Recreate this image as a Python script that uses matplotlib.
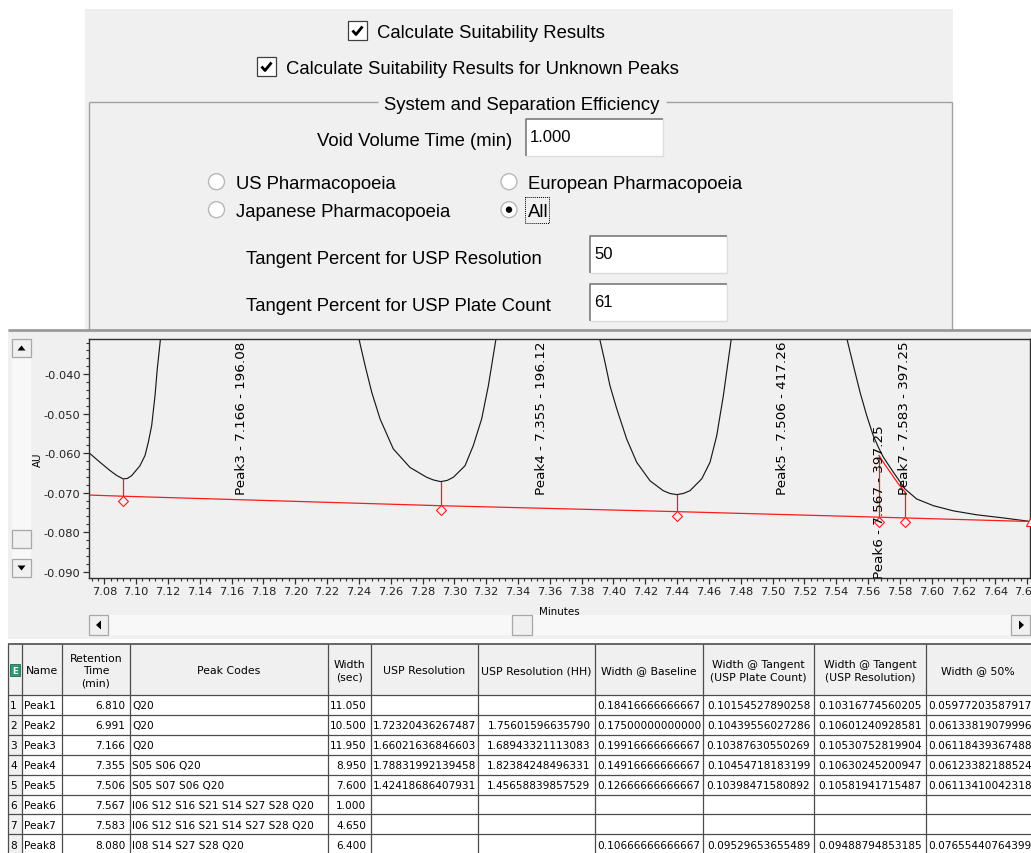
"""Suitability settings dialog with chromatogram zoom and peak table."""

import matplotlib

matplotlib.use("Agg")
import matplotlib.pyplot as plt
import matplotlib.transforms as mtransforms
from matplotlib.patches import Rectangle, Circle, Polygon
from matplotlib.ticker import MultipleLocator, FormatStrFormatter

W, H = 1031, 854
GRAY = "#f0f0f0"
UI_FONT = "Liberation Sans"
GRID_FONT = "DejaVu Sans"

# chromatogram trace, visible pieces (minutes, AU)
seg1_x = [7.0704, 7.0773, 7.0836, 7.0880, 7.0918, 7.0945, 7.0972, 7.1024, 7.1056, 7.1077, 7.1098, 7.1119, 7.1133, 7.1152, 7.1156]
seg1_y = [-0.0599, -0.0623, -0.0644, -0.0657, -0.0665, -0.0664, -0.0657, -0.0632, -0.0606, -0.0572, -0.0530, -0.0454, -0.0387, -0.0315, -0.0300]
seg2_x = [7.2396, 7.2403, 7.2439, 7.2481, 7.2533, 7.2616, 7.2721, 7.2826, 7.2870, 7.2914, 7.2955, 7.2994, 7.3067, 7.3119, 7.3172, 7.3214, 7.3260, 7.3266]
seg2_y = [-0.0300, -0.0315, -0.0378, -0.0446, -0.0513, -0.0589, -0.0636, -0.0661, -0.0668, -0.0672, -0.0669, -0.0661, -0.0632, -0.0581, -0.0513, -0.0429, -0.0315, -0.0300]
seg3_x = [7.3909, 7.3916, 7.3947, 7.3978, 7.4021, 7.4083, 7.4146, 7.4230, 7.4313, 7.4355, 7.4398, 7.4440, 7.4481, 7.4555, 7.4607, 7.4649, 7.4691, 7.4739, 7.4744]
seg3_y = [-0.0300, -0.0315, -0.0370, -0.0429, -0.0488, -0.0564, -0.0623, -0.0670, -0.0695, -0.0702, -0.0705, -0.0702, -0.0695, -0.0665, -0.0623, -0.0556, -0.0454, -0.0315, -0.0300]
seg4_x = [7.5461, 7.5470, 7.5508, 7.5550, 7.5592, 7.5633, 7.5665, 7.5696, 7.5759, 7.5833, 7.5906, 7.6011, 7.6136, 7.6283, 7.6451, 7.6604, 7.6620]
seg4_y = [-0.0300, -0.0315, -0.0378, -0.0446, -0.0505, -0.0556, -0.0585, -0.0610, -0.0648, -0.0691, -0.0716, -0.0733, -0.0746, -0.0756, -0.0764, -0.0772, -0.0774]

# integration baseline and peak boundaries
base_x = [7.0704, 7.0918, 7.2914, 7.4398, 7.5669, 7.5833, 7.6620]
base_y = [-0.0706, -0.0709, -0.0733, -0.0748, -0.0762, -0.0764, -0.0773]
bound_x = [7.0918, 7.2914, 7.4398, 7.5669, 7.5833]
bound_top = [-0.0665, -0.0672, -0.0705, -0.0606, -0.0699]
bound_base = [-0.0709, -0.0733, -0.0748, -0.0762, -0.0764]
skim_x = [7.5669, 7.5696, 7.5739, 7.5791, 7.5833]
skim_y = [-0.0606, -0.0623, -0.0648, -0.0678, -0.0699]
end_x, end_y = 7.6616, -0.0775

# peak labels drawn on the trace
label_names = ["Peak3", "Peak4", "Peak5", "Peak6", "Peak7"]
label_rt = [7.166, 7.355, 7.506, 7.567, 7.583]
label_val = [196.08, 196.12, 417.26, 397.25, 397.25]

# peak table
tbl_names = ["Peak1", "Peak2", "Peak3", "Peak4", "Peak5", "Peak6", "Peak7", "Peak8"]
tbl_rt = [6.810, 6.991, 7.166, 7.355, 7.506, 7.567, 7.583, 8.080]
tbl_codes = ["Q20", "Q20", "Q20", "S05 S06 Q20", "S05 S07 S06 Q20",
             "I06 S12 S16 S21 S14 S27 S28 Q20", "I06 S12 S16 S21 S14 S27 S28 Q20",
             "I08 S14 S27 S28 Q20"]
tbl_width = [11.050, 10.500, 11.950, 8.950, 7.600, 1.000, 4.650, 6.400]
tbl_usp_res = [None, 1.72320436267487, 1.66021636846603, 1.78831992139458, 1.42418686407931, None, None, None]
tbl_usp_hh = [None, 1.75601596635790, 1.68943321113083, 1.82384248496331, 1.45658839857529, None, None, None]
tbl_w_base = [0.18416666666667, 0.17500000000000, 0.19916666666667, 0.14916666666667, 0.12666666666667, None, None, 0.10666666666667]
tbl_w_tan_pc = [0.10154527890258, 0.10439556027286, 0.10387630550269, 0.10454718183199, 0.10398471580892, None, None, 0.09529653655489]
tbl_w_tan_res = [0.10316774560205, 0.10601240928581, 0.10530752819904, 0.10630245200947, 0.10581941715487, None, None, 0.09488794853185]
tbl_w_50 = [0.05977203587917, 0.06133819079996, 0.06118439367488, 0.06123382188524, 0.06113410042318, None, None, 0.07655440764399]
tbl_headers = ["Name", "Retention\nTime\n(min)", "Peak Codes", "Width\n(sec)", "USP Resolution",
               "USP Resolution (HH)", "Width @ Baseline", "Width @ Tangent\n(USP Plate Count)",
               "Width @ Tangent\n(USP Resolution)", "Width @ 50%"]

fig = plt.figure(figsize=(W / 100, H / 100), dpi=100)
fig.patch.set_facecolor("white")

# full-figure axes in pixel units for the dialog widgets and the grid
ui = fig.add_axes([0, 0, 1, 1])
ui.set_xlim(0, W)
ui.set_ylim(H, 0)
ui.axis("off")


def box(x0, y0, x1, y1, **kw):
    ui.add_patch(Rectangle((x0, y0), x1 - x0, y1 - y0, **kw))


def line(xs, ys, color="#a0a0a0", lw=1.0, **kw):
    ui.plot(xs, ys, color=color, lw=lw, solid_capstyle="butt", **kw)


def edit_box(x0, y0, x1, y1, value):
    box(x0, y0, x1, y1, fc="white", ec="none")
    line([x0, x0, x1], [y1, y0, y0], color="#7a7a7a", lw=1.2)
    line([x0, x1, x1], [y1, y1, y0], color="#dcdcdc", lw=1.0)
    ui.text(x0 + 4, y0 + 22, value, fontsize=12, family=UI_FONT, va="baseline")


def check_box(x0, y0, label):
    box(x0, y0, x0 + 19, y0 + 19, fc="white", ec="#404040", lw=0.9)
    line([x0 + 4.5, x0 + 8, x0 + 14.5], [y0 + 9.5, y0 + 13.5, y0 + 5.5], color="black", lw=2.0)
    ui.text(x0 + 29, y0 + 16.5, label, fontsize=13.3, family=UI_FONT, va="baseline")


def radio(cx, cy, label, selected=False):
    ui.add_patch(Circle((cx, cy), 8, fc="white", ec="#b8b8b8", lw=1.0))
    if selected:
        ui.add_patch(Circle((cx, cy), 3.2, fc="black", ec="none"))
    ui.text(cx + 19, cy + 6.6, label, fontsize=13.3, family=UI_FONT, va="baseline")


# ---- settings dialog
box(85, 10, 953, 331, fc=GRAY, ec="none")
check_box(348, 22, "Calculate Suitability Results")
check_box(257, 58, "Calculate Suitability Results for Unknown Peaks")

line([89, 378], [103, 103])
line([666, 952], [103, 103])
line([89, 89], [103, 331])
line([952, 952], [103, 331])
ui.text(522, 110, "System and Separation Efficiency", fontsize=13.3, family=UI_FONT,
        ha="center", va="baseline")

ui.text(512, 146, "Void Volume Time (min)", fontsize=13.3, family=UI_FONT, ha="right", va="baseline")
edit_box(526, 120, 663, 157, "1.000")

radio(216.5, 182.7, "US Pharmacopoeia")
radio(216.5, 210.7, "Japanese Pharmacopoeia")
radio(509, 182.7, "European Pharmacopoeia")
radio(509, 210.7, "All", selected=True)
box(525, 198, 549, 224, fc="none", ec="black", lw=0.7, ls=(0, (1, 1)))

ui.text(245.7, 264, "Tangent Percent for USP Resolution", fontsize=13.3, family=UI_FONT, va="baseline")
edit_box(590, 237, 727, 274, "50")
ui.text(245.7, 310.7, "Tangent Percent for USP Plate Count", fontsize=13.3, family=UI_FONT, va="baseline")
edit_box(590, 285, 727, 322, "61")

# ---- chart panel and scroll bars
box(8, 331, 1031, 640, fc=GRAY, ec="none")
line([8, 1031], [331, 331], color="#9a9a9a", lw=2.0)


def button(x0, y0, x1, y1, tri=None):
    box(x0, y0, x1, y1, fc=GRAY, ec="#a8a8a8", lw=0.9)
    if tri is not None:
        ui.add_patch(Polygon(tri, closed=True, fc="black", ec="none"))


box(12, 340, 31, 578, fc="#f8f8f8", ec="none")
button(12, 340, 31, 358, [(17.5, 351.5), (25.5, 351.5), (21.5, 346.5)])
button(12, 531, 31, 549)
button(12, 560, 31, 578, [(17.5, 566.5), (25.5, 566.5), (21.5, 571.5)])

box(89, 616, 1030, 636, fc="#f8f8f8", ec="none")
button(89, 616, 108, 636, [(101, 621.5), (101, 630.5), (96, 626)])
button(512, 616, 532, 636)
button(1011, 616, 1030, 636, [(1019, 621.5), (1019, 630.5), (1024, 626)])

# ---- peak table
col_edges = [8, 22, 62, 130, 328, 371, 478, 595, 703, 814, 926, 1045]
tbl_top, head_bot, row_h = 645, 696, 19.9
n_rows = len(tbl_names)
row_edges = [head_bot + i * row_h for i in range(n_rows + 1)]

box(8, tbl_top, 1031, head_bot, fc=GRAY, ec="none")
box(22, head_bot, 1031, H, fc="white", ec="none")
box(8, head_bot, 22, H, fc=GRAY, ec="none")

for x in col_edges:
    line([x, x], [tbl_top, H], color="#4d4d4d", lw=0.9)
line([8, 1031], [tbl_top, tbl_top], color="#4d4d4d", lw=1.2)
for y in row_edges:
    line([8, 1031], [y, y], color="#4d4d4d", lw=0.9)

box(10, 665, 20, 677, fc="#2e9a72", ec="#1f6e50", lw=0.6)
ui.text(15, 671.5, "E", fontsize=6, color="white", fontweight="bold", family=GRID_FONT,
        ha="center", va="center")

for i, head in enumerate(tbl_headers):
    cx = (col_edges[i + 1] + col_edges[i + 2]) / 2
    if i == len(tbl_headers) - 1:
        cx = 978
    ui.text(cx, (tbl_top + head_bot) / 2 + 1, head, fontsize=7.8, family=GRID_FONT,
            ha="center", va="center", multialignment="center", linespacing=1.25)


def fmt(v):
    return "" if v is None else f"{v:.14f}"


for r in range(n_rows):
    yc = (row_edges[r] + row_edges[r + 1]) / 2 + 0.5
    cells = [
        (f"{r + 1}", "left"),
        (tbl_names[r], "left"),
        (f"{tbl_rt[r]:.3f}", "right"),
        (tbl_codes[r], "left"),
        (f"{tbl_width[r]:.3f}", "right"),
        (fmt(tbl_usp_res[r]), "left"),
        (fmt(tbl_usp_hh[r]), "right"),
        (fmt(tbl_w_base[r]), "left"),
        (fmt(tbl_w_tan_pc[r]), "center"),
        (fmt(tbl_w_tan_res[r]), "center"),
        (fmt(tbl_w_50[r]), "left"),
    ]
    for c, (txt, align) in enumerate(cells):
        x0, x1 = col_edges[c], col_edges[c + 1]
        if align == "left":
            x = x0 + 2.0
        elif align == "right":
            x = x1 - 4.5
        else:
            x = (x0 + x1) / 2
        ui.text(x, yc, txt, fontsize=7.55, family=GRID_FONT, ha=align, va="center")

# ---- chromatogram
ax = fig.add_axes([89 / W, 1 - 579 / H, 941 / W, 239 / H])
ax.set_facecolor(GRAY)

trace_kw = dict(color="#1a1a1a", lw=0.85)
for xs, ys in [(seg1_x, seg1_y), (seg2_x, seg2_y), (seg3_x, seg3_y), (seg4_x, seg4_y)]:
    ax.plot(xs, ys, **trace_kw)

red = "#ff1a1a"
ax.plot(base_x, base_y, color=red, lw=0.9)
ax.plot(skim_x, skim_y, color=red, lw=0.9)
for bx, top, bot in zip(bound_x, bound_top, bound_base):
    ax.plot([bx, bx], [top, bot], color=red, lw=0.9)

below = mtransforms.offset_copy(ax.transData, fig=fig, y=-4.5, units="dots")
ax.plot(bound_x, bound_base, ls="none", marker="D", ms=4.8, mfc=GRAY, mec=red, mew=0.8,
        transform=below, zorder=3)
ax.plot([end_x], [end_y], ls="none", marker="^", ms=6, mfc=GRAY, mec=red, mew=0.8, zorder=3)

ax.set_xlim(7.0704, 7.6618)
ax.set_ylim(-0.0916, -0.0311)

for name, rt, val in zip(label_names, label_rt, label_val):
    y = ax.get_ylim()[0] if name == "Peak6" else -0.0703
    ax.text(rt, y, f"{name} - {rt:.3f} - {val:.2f}", rotation=90, ha="center", va="bottom",
            fontsize=9.7, family=GRID_FONT, color="black", clip_on=True, zorder=4)

ax.xaxis.set_major_locator(MultipleLocator(0.02))
ax.xaxis.set_minor_locator(MultipleLocator(0.004))
ax.yaxis.set_major_locator(MultipleLocator(0.01))
ax.yaxis.set_minor_locator(MultipleLocator(0.002))
ax.xaxis.set_major_formatter(FormatStrFormatter("%.2f"))
ax.yaxis.set_major_formatter(FormatStrFormatter("%.3f"))
ax.tick_params(which="both", direction="out", top=False, right=False, color="#303030")
ax.tick_params(which="major", length=4, width=0.9, labelsize=8.2, labelcolor="#202020", pad=2)
ax.tick_params(which="minor", length=2.5, width=0.8)
for sp in ax.spines.values():
    sp.set_color("#303030")
    sp.set_linewidth(1.0)

ax.set_ylabel("AU", fontsize=7.4, family=GRID_FONT)
ax.yaxis.set_label_coords(-0.0489, 0.5)
ax.set_xlabel("Minutes", fontsize=7.4, family=GRID_FONT)
ax.xaxis.set_label_coords(0.5, -0.116)

fig.savefig("out.png", dpi=100, facecolor="white")
